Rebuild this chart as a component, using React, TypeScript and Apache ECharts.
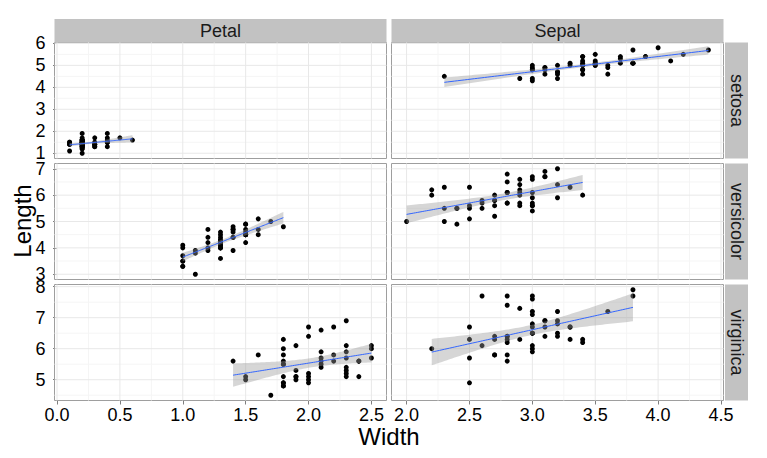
import React, { useEffect, useRef } from 'react';
import * as echarts from 'echarts';

// facets
const species = ['setosa', 'versicolor', 'virginica'];
const parts = ['Petal', 'Sepal'];

// iris measurements, one array per species and variable
const setosaSepalLength = [5.1, 4.9, 4.7, 4.6, 5.0, 5.4, 4.6, 5.0, 4.4, 4.9, 5.4, 4.8, 4.8, 4.3, 5.8, 5.7, 5.4, 5.1, 5.7, 5.1, 5.4, 5.1, 4.6, 5.1, 4.8, 5.0, 5.0, 5.2, 5.2, 4.7, 4.8, 5.4, 5.2, 5.5, 4.9, 5.0, 5.5, 4.9, 4.4, 5.1, 5.0, 4.5, 4.4, 5.0, 5.1, 4.8, 5.1, 4.6, 5.3, 5.0];
const setosaSepalWidth = [3.5, 3.0, 3.2, 3.1, 3.6, 3.9, 3.4, 3.4, 2.9, 3.1, 3.7, 3.4, 3.0, 3.0, 4.0, 4.4, 3.9, 3.5, 3.8, 3.8, 3.4, 3.7, 3.6, 3.3, 3.4, 3.0, 3.4, 3.5, 3.4, 3.2, 3.1, 3.4, 4.1, 4.2, 3.1, 3.2, 3.5, 3.6, 3.0, 3.4, 3.5, 2.3, 3.2, 3.5, 3.8, 3.0, 3.8, 3.2, 3.7, 3.3];
const setosaPetalLength = [1.4, 1.4, 1.3, 1.5, 1.4, 1.7, 1.4, 1.5, 1.4, 1.5, 1.5, 1.6, 1.4, 1.1, 1.2, 1.5, 1.3, 1.4, 1.7, 1.5, 1.7, 1.5, 1.0, 1.7, 1.9, 1.6, 1.6, 1.5, 1.4, 1.6, 1.6, 1.5, 1.5, 1.4, 1.5, 1.2, 1.3, 1.4, 1.3, 1.5, 1.3, 1.3, 1.3, 1.6, 1.9, 1.4, 1.6, 1.4, 1.5, 1.4];
const setosaPetalWidth = [0.2, 0.2, 0.2, 0.2, 0.2, 0.4, 0.3, 0.2, 0.2, 0.1, 0.2, 0.2, 0.1, 0.1, 0.2, 0.4, 0.4, 0.3, 0.3, 0.3, 0.2, 0.4, 0.2, 0.5, 0.2, 0.2, 0.4, 0.2, 0.2, 0.2, 0.2, 0.4, 0.1, 0.2, 0.2, 0.2, 0.2, 0.1, 0.2, 0.2, 0.3, 0.3, 0.2, 0.6, 0.4, 0.3, 0.2, 0.2, 0.2, 0.2];

const versicolorSepalLength = [7.0, 6.4, 6.9, 5.5, 6.5, 5.7, 6.3, 4.9, 6.6, 5.2, 5.0, 5.9, 6.0, 6.1, 5.6, 6.7, 5.6, 5.8, 6.2, 5.6, 5.9, 6.1, 6.3, 6.1, 6.4, 6.6, 6.8, 6.7, 6.0, 5.7, 5.5, 5.5, 5.8, 6.0, 5.4, 6.0, 6.7, 6.3, 5.6, 5.5, 5.5, 6.1, 5.8, 5.0, 5.6, 5.7, 5.7, 6.2, 5.1, 5.7];
const versicolorSepalWidth = [3.2, 3.2, 3.1, 2.3, 2.8, 2.8, 3.3, 2.4, 2.9, 2.7, 2.0, 3.0, 2.2, 2.9, 2.9, 3.1, 3.0, 2.7, 2.2, 2.5, 3.2, 2.8, 2.5, 2.8, 2.9, 3.0, 2.8, 3.0, 2.9, 2.6, 2.4, 2.4, 2.7, 2.7, 3.0, 3.4, 3.1, 2.3, 3.0, 2.5, 2.6, 3.0, 2.6, 2.3, 2.7, 3.0, 2.9, 2.9, 2.5, 2.8];
const versicolorPetalLength = [4.7, 4.5, 4.9, 4.0, 4.6, 4.5, 4.7, 3.3, 4.6, 3.9, 3.5, 4.2, 4.0, 4.7, 3.6, 4.4, 4.5, 4.1, 4.5, 3.9, 4.8, 4.0, 4.9, 4.7, 4.3, 4.4, 4.8, 5.0, 4.5, 3.5, 3.8, 3.7, 3.9, 5.1, 4.5, 4.5, 4.7, 4.4, 4.1, 4.0, 4.4, 4.6, 4.0, 3.3, 4.2, 4.2, 4.2, 4.3, 3.0, 4.1];
const versicolorPetalWidth = [1.4, 1.5, 1.5, 1.3, 1.5, 1.3, 1.6, 1.0, 1.3, 1.4, 1.0, 1.5, 1.0, 1.4, 1.3, 1.4, 1.5, 1.0, 1.5, 1.1, 1.8, 1.3, 1.5, 1.2, 1.3, 1.4, 1.4, 1.7, 1.5, 1.0, 1.1, 1.0, 1.2, 1.6, 1.5, 1.6, 1.5, 1.3, 1.3, 1.3, 1.2, 1.4, 1.2, 1.0, 1.3, 1.2, 1.3, 1.3, 1.1, 1.3];

const virginicaSepalLength = [6.3, 5.8, 7.1, 6.3, 6.5, 7.6, 4.9, 7.3, 6.7, 7.2, 6.5, 6.4, 6.8, 5.7, 5.8, 6.4, 6.5, 7.7, 7.7, 6.0, 6.9, 5.6, 7.7, 6.3, 6.7, 7.2, 6.2, 6.1, 6.4, 7.2, 7.4, 7.9, 6.4, 6.3, 6.1, 7.7, 6.3, 6.4, 6.0, 6.9, 6.7, 6.9, 5.8, 6.8, 6.7, 6.7, 6.3, 6.5, 6.2, 5.9];
const virginicaSepalWidth = [3.3, 2.7, 3.0, 2.9, 3.0, 3.0, 2.5, 2.9, 2.5, 3.6, 3.2, 2.7, 3.0, 2.5, 2.8, 3.2, 3.0, 3.8, 2.6, 2.2, 3.2, 2.8, 2.8, 2.7, 3.3, 3.2, 2.8, 3.0, 2.8, 3.0, 2.8, 3.8, 2.8, 2.8, 2.6, 3.0, 3.4, 3.1, 3.0, 3.1, 3.1, 3.1, 2.7, 3.2, 3.3, 3.0, 2.5, 3.0, 3.4, 3.0];
const virginicaPetalLength = [6.0, 5.1, 5.9, 5.6, 5.8, 6.6, 4.5, 6.3, 5.8, 6.1, 5.1, 5.3, 5.5, 5.0, 5.1, 5.3, 5.5, 6.7, 6.9, 5.0, 5.7, 4.9, 6.7, 4.9, 5.7, 6.0, 4.8, 4.9, 5.6, 5.8, 6.1, 6.4, 5.6, 5.1, 5.6, 6.1, 5.6, 5.5, 4.8, 5.4, 5.6, 5.1, 5.1, 5.9, 5.7, 5.2, 5.0, 5.2, 5.4, 5.1];
const virginicaPetalWidth = [2.5, 1.9, 2.1, 1.8, 2.2, 2.1, 1.7, 1.8, 1.8, 2.5, 2.0, 1.9, 2.1, 2.0, 2.4, 2.3, 1.8, 2.2, 2.3, 1.5, 2.3, 2.0, 2.0, 1.8, 2.1, 1.8, 1.8, 1.8, 2.1, 1.6, 1.9, 2.0, 2.2, 1.5, 1.4, 2.3, 2.4, 1.8, 1.8, 2.1, 2.4, 2.3, 1.9, 2.3, 2.5, 2.3, 1.9, 2.0, 2.3, 1.8];

// axis breaks
const xBreaksPetal = [0, 0.5, 1, 1.5, 2, 2.5];
const xBreaksSepal = [2, 2.5, 3, 3.5, 4, 4.5];
const yBreaksSetosa = [1, 2, 3, 4, 5, 6];
const yBreaksVersicolor = [3, 4, 5, 6, 7];
const yBreaksVirginica = [5, 6, 7, 8];

const panelData: Record<string, Record<string, { x: number[]; y: number[] }>> = {
  setosa: {
    Petal: { x: setosaPetalWidth, y: setosaPetalLength },
    Sepal: { x: setosaSepalWidth, y: setosaSepalLength },
  },
  versicolor: {
    Petal: { x: versicolorPetalWidth, y: versicolorPetalLength },
    Sepal: { x: versicolorSepalWidth, y: versicolorSepalLength },
  },
  virginica: {
    Petal: { x: virginicaPetalWidth, y: virginicaPetalLength },
    Sepal: { x: virginicaSepalWidth, y: virginicaSepalLength },
  },
};
const xBreaks = [xBreaksPetal, xBreaksSepal];
const yBreaks = [yBreaksSetosa, yBreaksVersicolor, yBreaksVirginica];

// layout (px)
const colLeft = [54.5, 391.5];
const panelW = 332;
const rowTop = [42.5, 163.5, 284.5];
const panelH = 116;
const FONT = "'Liberation Sans', Arial, Helvetica, sans-serif";

// ggplot style expanded range (5% each side)
const expand = (vals: number[]) => {
  const lo = Math.min(...vals);
  const hi = Math.max(...vals);
  const d = (hi - lo) * 0.05;
  return [lo - d, hi + d];
};

const minorBreaks = (br: number[], lim: number[]) => {
  const step = br[1] - br[0];
  const out: number[] = [];
  for (let i = -1; i < br.length; i++) out.push(br[0] + (i + 0.5) * step);
  return out.filter((v) => v >= lim[0] && v <= lim[1]);
};

// linear fit with 95% confidence band (stat_smooth method = "lm")
const lmBand = (xs: number[], ys: number[]) => {
  const n = xs.length;
  const xbar = xs.reduce((a, b) => a + b, 0) / n;
  const ybar = ys.reduce((a, b) => a + b, 0) / n;
  let sxx = 0;
  let sxy = 0;
  xs.forEach((x, i) => {
    sxx += (x - xbar) * (x - xbar);
    sxy += (x - xbar) * (ys[i] - ybar);
  });
  const b = sxy / sxx;
  const a = ybar - b * xbar;
  let sse = 0;
  xs.forEach((x, i) => {
    const r = ys[i] - (a + b * x);
    sse += r * r;
  });
  const s = Math.sqrt(sse / (n - 2));
  const t = 2.0106; // qt(0.975, 48)
  const lo = Math.min(...xs);
  const hi = Math.max(...xs);
  const fit: number[][] = [];
  const upper: number[][] = [];
  const lower: number[][] = [];
  for (let k = 0; k < 80; k++) {
    const x = lo + ((hi - lo) * k) / 79;
    const yhat = a + b * x;
    const se = s * Math.sqrt(1 / n + ((x - xbar) * (x - xbar)) / sxx);
    fit.push([x, yhat]);
    upper.push([x, yhat + t * se]);
    lower.push([x, yhat - t * se]);
  }
  return { fit, upper, lower };
};

const App: React.FC = () => {
  const chartRef = useRef<HTMLDivElement>(null);

  useEffect(() => {
    document.body.style.margin = '0';
    if (!chartRef.current) return undefined;
    const chart = echarts.init(chartRef.current, undefined, { renderer: 'svg' });

    const xLim = parts.map((p) => expand(species.flatMap((sp) => panelData[sp][p].x)));
    const yLim = species.map((sp) => expand(parts.flatMap((p) => panelData[sp][p].y)));

    const grids: any[] = [];
    const xAxes: any[] = [];
    const yAxes: any[] = [];
    const series: any[] = [];

    species.forEach((sp, r) => {
      parts.forEach((part, c) => {
        const gi = grids.length;
        grids.push({
          left: colLeft[c],
          top: rowTop[r],
          width: panelW,
          height: panelH,
          show: true,
          backgroundColor: '#fff',
          borderColor: '#9e9e9e',
          borderWidth: 1,
          outerBoundsMode: 'none',
        });
        xAxes.push({
          type: 'value',
          gridIndex: gi,
          min: xLim[c][0],
          max: xLim[c][1],
          axisLine: { show: false },
          splitLine: { show: false },
          axisTick: {
            show: r === 2,
            customValues: xBreaks[c],
            length: 4,
            lineStyle: { color: '#7f7f7f' },
          },
          axisLabel: {
            show: r === 2,
            customValues: xBreaks[c],
            formatter: (v: number) => v.toFixed(1),
            fontSize: 18,
            fontFamily: FONT,
            color: '#000',
            margin: 5,
          },
        });
        yAxes.push({
          type: 'value',
          gridIndex: gi,
          min: yLim[r][0],
          max: yLim[r][1],
          axisLine: { show: false },
          splitLine: { show: false },
          axisTick: {
            show: c === 0,
            customValues: yBreaks[r],
            length: 4,
            lineStyle: { color: '#7f7f7f' },
          },
          axisLabel: {
            show: c === 0,
            customValues: yBreaks[r],
            formatter: (v: number) => String(v),
            fontSize: 18,
            fontFamily: FONT,
            color: '#000',
            margin: 9,
          },
        });

        // grid lines, drawn as broken line series through the panel's scales
        const gridLines = (xs: number[], ys: number[]) => {
          const d: any[] = [];
          xs.forEach((v) => d.push([v, yLim[r][0]], [v, yLim[r][1]], [v, '-']));
          ys.forEach((v) => d.push([xLim[c][0], v], [xLim[c][1], v], ['-', v]));
          return d;
        };
        series.push({
          type: 'line',
          xAxisIndex: gi,
          yAxisIndex: gi,
          data: gridLines(minorBreaks(xBreaks[c], xLim[c]), minorBreaks(yBreaks[r], yLim[r])),
          symbol: 'none',
          connectNulls: false,
          silent: true,
          z: 1,
          lineStyle: { color: '#f5f5f5', width: 1 },
        });
        series.push({
          type: 'line',
          xAxisIndex: gi,
          yAxisIndex: gi,
          data: gridLines(xBreaks[c], yBreaks[r]),
          symbol: 'none',
          connectNulls: false,
          silent: true,
          z: 1,
          lineStyle: { color: '#e8e8e8', width: 1 },
        });

        const { x, y } = panelData[sp][part];
        series.push({
          type: 'scatter',
          xAxisIndex: gi,
          yAxisIndex: gi,
          data: x.map((v, i) => [v, y[i]]),
          symbolSize: 5,
          itemStyle: { color: '#000', opacity: 1 },
          z: 2,
        });

        const band = lmBand(x, y);
        series.push({
          type: 'custom',
          xAxisIndex: gi,
          yAxisIndex: gi,
          data: band.upper,
          encode: { x: 0, y: 1 },
          clip: true,
          silent: true,
          z: 3,
          renderItem: (params: any, api: any) => {
            if (params.dataIndex !== 0) return null;
            const pts = [
              ...band.upper.map((p) => api.coord(p)),
              ...band.lower.slice().reverse().map((p) => api.coord(p)),
            ];
            return {
              type: 'polygon',
              shape: { points: pts },
              style: { fill: 'rgba(153,153,153,0.4)' },
            };
          },
        });
        series.push({
          type: 'line',
          xAxisIndex: gi,
          yAxisIndex: gi,
          data: band.fit,
          symbol: 'none',
          silent: true,
          z: 4,
          lineStyle: { color: '#3366FF', width: 1 },
        });
      });
    });

    const graphics: any[] = [];
    parts.forEach((p, c) => {
      graphics.push({
        type: 'rect',
        shape: { x: colLeft[c], y: 19, width: panelW, height: rowTop[0] - 19 },
        style: { fill: '#c2c2c2' },
      });
      graphics.push({
        type: 'text',
        x: colLeft[c] + panelW / 2,
        y: (19 + rowTop[0]) / 2,
        style: {
          text: p,
          font: `18px ${FONT}`,
          fill: '#1a1a1a',
          align: 'center',
          verticalAlign: 'middle',
          textAlign: 'center',
          textVerticalAlign: 'middle',
        },
      });
    });
    species.forEach((sp, r) => {
      graphics.push({
        type: 'rect',
        shape: { x: 725, y: rowTop[r], width: 23, height: panelH },
        style: { fill: '#c2c2c2' },
      });
      graphics.push({
        type: 'text',
        x: 736.5,
        y: rowTop[r] + panelH / 2,
        rotation: -Math.PI / 2,
        style: {
          text: sp,
          font: `18px ${FONT}`,
          fill: '#1a1a1a',
          align: 'center',
          verticalAlign: 'middle',
          textAlign: 'center',
          textVerticalAlign: 'middle',
        },
      });
    });
    graphics.push({
      type: 'text',
      x: 389,
      y: 436,
      style: {
        text: 'Width',
        font: `24px ${FONT}`,
        fill: '#000',
        align: 'center',
        verticalAlign: 'middle',
        textAlign: 'center',
        textVerticalAlign: 'middle',
      },
    });
    graphics.push({
      type: 'text',
      x: 22,
      y: 221,
      rotation: Math.PI / 2,
      style: {
        text: 'Length',
        font: `24px ${FONT}`,
        fill: '#000',
        align: 'center',
        verticalAlign: 'middle',
        textAlign: 'center',
        textVerticalAlign: 'middle',
      },
    });

    chart.setOption({
      animation: false,
      backgroundColor: '#fff',
      grid: grids,
      xAxis: xAxes,
      yAxis: yAxes,
      series,
      graphic: graphics,
    });

    return () => {
      chart.dispose();
    };
  }, []);

  return <div ref={chartRef} style={{ width: '767px', height: '458px' }} />;
};

export default App;
